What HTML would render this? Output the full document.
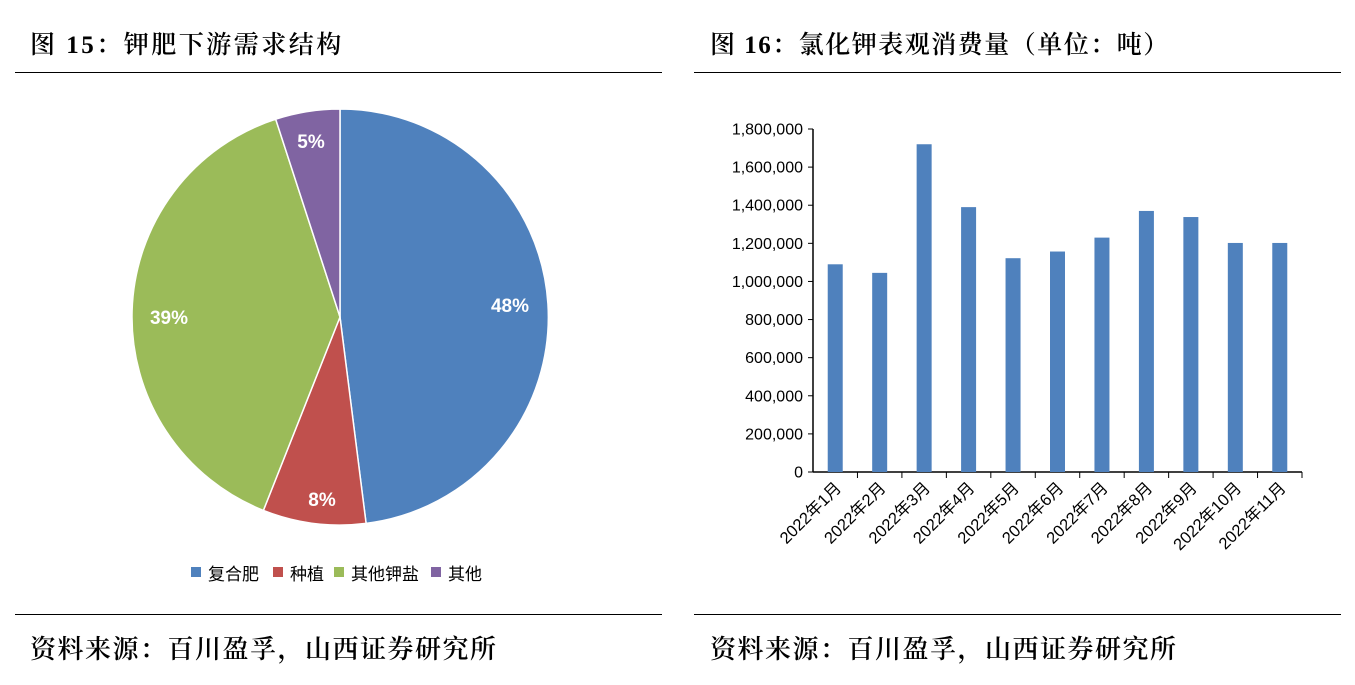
<!DOCTYPE html>
<html><head><meta charset="utf-8"><style>
html,body{margin:0;padding:0;background:#fff;}
body{width:1355px;height:685px;position:relative;overflow:hidden;font-family:"Liberation Serif","Noto Serif CJK SC",serif;}
.t{position:absolute;font-size:25px;color:#000;white-space:nowrap;font-weight:600;letter-spacing:2.5px;}
.s{font-size:26px;letter-spacing:1.5px;}
.l{position:absolute;height:1px;background:#000;}
</style></head><body>
<div class="t" style="left:30px;top:25px;">图 15：钾肥下游需求结构</div>
<div class="t" style="left:710px;top:25px;letter-spacing:1.5px;">图 16：氯化钾表观消费量（单位：吨）</div>
<div class="l" style="left:15px;width:647px;top:72px;"></div>
<div class="l" style="left:694px;width:647px;top:72px;"></div>
<div class="l" style="left:15px;width:647px;top:614px;"></div>
<div class="l" style="left:694px;width:647px;top:614px;"></div>
<div class="t s" style="left:30px;top:629px;">资料来源：百川盈孚，山西证券研究所</div>
<div class="t s" style="left:710px;top:629px;">资料来源：百川盈孚，山西证券研究所</div>
<svg width="1355" height="685" style="position:absolute;left:0;top:0" font-family="Liberation Sans, Noto Sans CJK SC, sans-serif">
<g stroke="#fff" stroke-width="1.5">
<path d="M340,317 L340,109 A208,208 0 0 1 366.1,523.4 Z" fill="#4f81bd"/>
<path d="M340,317 L366.1,523.4 A208,208 0 0 1 263.4,510.4 Z" fill="#c0504d"/>
<path d="M340,317 L263.4,510.4 A208,208 0 0 1 275.7,119.2 Z" fill="#9bbb59"/>
<path d="M340,317 L275.7,119.2 A208,208 0 0 1 340,109 Z" fill="#8064a2"/>
</g>
<g fill="#fff" font-weight="bold" font-size="19" text-anchor="middle">
<text x="510" y="312">48%</text><text x="322" y="506">8%</text>
<text x="169" y="324">39%</text><text x="311" y="148">5%</text>
</g>
<g font-size="17" fill="#000">
<rect x="191" y="567" width="10" height="10" fill="#4f81bd"/><text x="208" y="580">复合肥</text>
<rect x="273" y="567" width="10" height="10" fill="#c0504d"/><text x="290" y="580">种植</text>
<rect x="334" y="567" width="10" height="10" fill="#9bbb59"/><text x="351" y="580">其他钾盐</text>
<rect x="431" y="567" width="10" height="10" fill="#8064a2"/><text x="448" y="580">其他</text>
</g>
<g id="bar"></g>
</svg>
<script>
var g=document.getElementById('bar'),s='';
var x0=813,x1=1302,y0=472,k=343/1800000,w=(x1-x0)/11;
var v=[1090000,1045000,1720000,1390000,1122000,1157000,1230000,1370000,1338000,1202000,1202000];
s+='<line x1="'+x0+'" y1="129" x2="'+x0+'" y2="'+y0+'" stroke="#000" stroke-width="1.5"/>';
s+='<line x1="'+x0+'" y1="'+y0+'" x2="'+x1+'" y2="'+y0+'" stroke="#000" stroke-width="1.5"/>';
for(var i=0;i<=9;i++){var y=y0-i*200000*k;s+='<line x1="'+(x0-5)+'" y1="'+y+'" x2="'+x0+'" y2="'+y+'" stroke="#000"/>';
s+='<text x="'+(x0-10)+'" y="'+(y+5.5)+'" font-size="16" text-anchor="end">'+(i*200000).toLocaleString('en-US')+'</text>';}
for(i=0;i<11;i++){var cx=x0+w*(i+0.5),h=v[i]*k;
s+='<rect x="'+(cx-7.5)+'" y="'+(y0-h)+'" width="15" height="'+h+'" fill="#4f81bd"/>';
var tx=x0+w*(i+1);s+='<line x1="'+tx+'" y1="'+y0+'" x2="'+tx+'" y2="'+(y0+6)+'" stroke="#000"/>';
s+='<text transform="translate('+(cx+7)+','+(y0+17)+') rotate(-45)" font-size="16.5" text-anchor="end">2022年'+(i+1)+'月</text>';}
g.innerHTML=s;
</script>
</body></html>
